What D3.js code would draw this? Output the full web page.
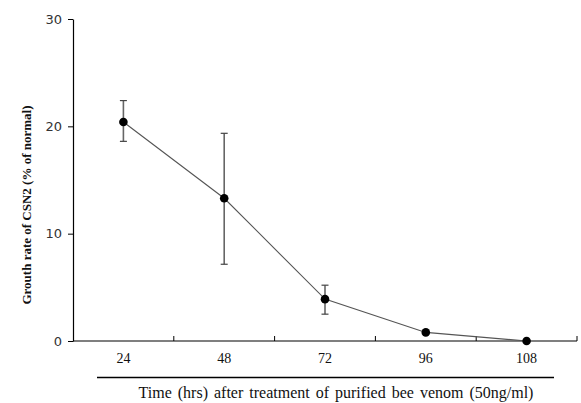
<!DOCTYPE html>
<html><head><meta charset="utf-8">
<script src="https://cdn.jsdelivr.net/npm/d3@7"></script>
<style>body{margin:0;background:#fff}svg{display:block}</style>
</head><body>
<svg id="c" width="581" height="403"></svg>
<script>
const categories = ["24", "48", "72", "96", "108"];
const values = [20.4, 13.3, 3.9, 0.8, 0.0];
const errUpper = [22.4, 19.35, 5.2, null, null];
const errLower = [18.6, 7.15, 2.5, null, null];
const yTicks = [0, 10, 20, 30];
const xTitle = "Time (hrs) after treatment of purified bee venom (50ng/ml)";
const yTitle = "Grouth rate of CSN2 (% of normal)";

const svg = d3.select("#c");
const x = d3.scaleBand().domain(categories).range([73, 577]);
const y = d3.scaleLinear().domain([0, 30]).range([341, 19]);

// y axis
const ya = svg.append("g").attr("transform", "translate(73,0)")
  .call(d3.axisLeft(y).tickValues(yTicks).tickSize(5).tickPadding(6).tickSizeOuter(0));
ya.select(".domain").attr("stroke", "#000").attr("stroke-width", 1.2);
ya.selectAll(".tick line").attr("stroke", "#000");
ya.selectAll("text").attr("font-family", "DejaVu Sans").attr("font-size", 13).attr("fill", "#333");

// x axis: ticks at band boundaries pointing up
const xa = svg.append("g").attr("transform", "translate(0,341)");
xa.append("line").attr("x1", x.range()[0]).attr("x2", x.range()[1]).attr("stroke", "#000").attr("stroke-width", 1.2);
const bounds = categories.map(c => x(c) + x.bandwidth());
xa.selectAll(".bt").data(bounds).join("line").attr("class","bt")
  .attr("x1", d => d).attr("x2", d => d).attr("y1", 0).attr("y2", -5).attr("stroke", "#000");
xa.selectAll(".lb").data(categories).join("text").attr("class","lb")
  .attr("x", d => x(d) + x.bandwidth()/2).attr("y", 22)
  .attr("text-anchor", "middle").attr("font-family", "Liberation Serif").attr("font-size", 14)
  .attr("fill", "#111").text(d => d);

// underline and x title
svg.append("line").attr("x1", 97).attr("x2", 554).attr("y1", 377.5).attr("y2", 377.5).attr("stroke", "#000").attr("stroke-width", 1.6);
svg.append("text").attr("x", 336).attr("y", 398).attr("text-anchor", "middle")
  .attr("font-family", "Liberation Serif").attr("font-size", 16).attr("word-spacing", 2)
  .attr("fill", "#111").text(xTitle);

// y title
svg.append("text").attr("transform", "translate(31,205) rotate(-90)").attr("text-anchor", "middle")
  .attr("font-family", "Liberation Serif").attr("font-weight", "bold").attr("font-size", 13)
  .attr("fill", "#111").text(yTitle);

const cx = d => x(d) + x.bandwidth()/2;
const pts = categories.map((c, i) => ({c, v: values[i], hi: errUpper[i], lo: errLower[i]}));

// line
svg.append("path").datum(pts)
  .attr("d", d3.line().x(d => cx(d.c)).y(d => y(d.v)))
  .attr("fill", "none").attr("stroke", "#555").attr("stroke-width", 1.1);

// error bars
const eb = svg.append("g").selectAll("g").data(pts.filter(d => d.hi != null)).join("g");
eb.append("line").attr("x1", d => cx(d.c)).attr("x2", d => cx(d.c))
  .attr("y1", d => y(d.hi)).attr("y2", d => y(d.lo)).attr("stroke", "#666").attr("stroke-width", 1.6);
eb.append("line").attr("x1", d => cx(d.c) - 3.5).attr("x2", d => cx(d.c) + 3.5)
  .attr("y1", d => y(d.hi)).attr("y2", d => y(d.hi)).attr("stroke", "#444").attr("stroke-width", 1.2);
eb.append("line").attr("x1", d => cx(d.c) - 3.5).attr("x2", d => cx(d.c) + 3.5)
  .attr("y1", d => y(d.lo)).attr("y2", d => y(d.lo)).attr("stroke", "#444").attr("stroke-width", 1.2);

// markers
svg.append("g").selectAll("circle").data(pts).join("circle")
  .attr("cx", d => cx(d.c)).attr("cy", d => y(d.v)).attr("r", 4.3).attr("fill", "#000");
</script>
</body></html>
